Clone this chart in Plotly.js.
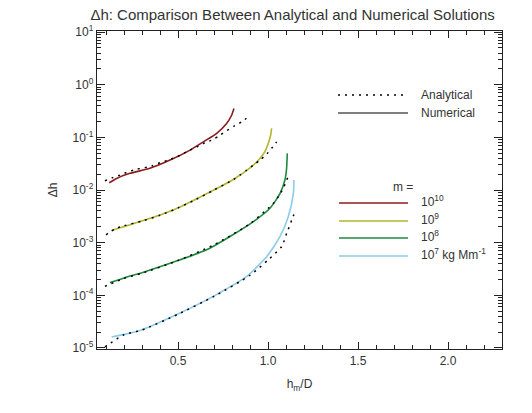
<!DOCTYPE html>
<html><head><meta charset="utf-8">
<script src="https://cdn.plot.ly/plotly-3.0.1.min.js"></script>
<style>html,body{margin:0;padding:0;background:#fff}#plot{width:532px;height:413px}</style>
</head><body><div id="plot"></div>
<script>
// ---- data (x = h_m/D, y = Δh) ----
const redNumX = [0.118,0.159,0.233,0.344,0.456,0.567,0.641,0.715,0.77,0.798,0.811];
const redNumY = [0.0137,0.0166,0.0207,0.0258,0.037,0.0573,0.0822,0.119,0.183,0.263,0.352];
const redAnaX = [0.094,0.141,0.178,0.224,0.27,0.354,0.4,0.446,0.5,0.55,0.613,0.65,0.696,0.733,0.77,0.811,0.854,0.89];
const redAnaY = [0.015,0.0174,0.0192,0.0222,0.0247,0.0285,0.0329,0.037,0.0437,0.0537,0.068,0.0787,0.0912,0.110,0.133,0.163,0.197,0.245];

const yelNumX = [0.131,0.289,0.474,0.659,0.807,0.9,0.95,0.983,1.005,1.015,1.02];
const yelNumY = [0.0017,0.00251,0.00418,0.00851,0.0158,0.0263,0.038,0.0537,0.0832,0.112,0.148];
const yelAnaX = [0.1,0.15,0.2,0.3,0.4,0.5,0.6,0.7,0.811,0.844,0.882,0.919,0.956,0.993,1.02,1.048];
const yelAnaY = [0.00141,0.00182,0.00209,0.00257,0.00331,0.00457,0.00661,0.01,0.016,0.0192,0.0239,0.0297,0.037,0.0481,0.0617,0.0822];

const grnNumX = [0.122,0.2,0.3,0.511,0.659,0.789,0.919,1.011,1.067,1.094,1.103,1.107];
const grnNumY = [0.000174,0.000214,0.000269,0.000472,0.000731,0.00131,0.00251,0.0045,0.00865,0.0155,0.0251,0.0496];
const grnAnaX = [0.094,0.2,0.3,0.5,0.7,0.9,1.03,1.057,1.085,1.104,1.122];
const grnAnaY = [0.000148,0.000209,0.000263,0.000457,0.000912,0.00229,0.00558,0.00748,0.0108,0.0155,0.0207];

const bluNumX = [0.131,0.289,0.511,0.696,0.882,0.993,1.067,1.113,1.141,1.144];
const bluNumY = [0.0000162,0.0000215,0.0000462,0.0000955,0.000228,0.000546,0.00131,0.00313,0.00865,0.0155];
const bluAnaX = [0.094,0.2,0.3,0.5,0.7,0.9,1.0,1.076,1.104,1.132,1.15];
const bluAnaY = [0.0000105,0.0000178,0.0000219,0.0000437,0.0000955,0.00024,0.000468,0.000843,0.00151,0.0027,0.00389];

const yTickVals = [1e-5,1e-4,1e-3,1e-2,1e-1,1,10];
const yTickText = ['10<sup>-5</sup>','10<sup>-4</sup>','10<sup>-3</sup>','10<sup>-2</sup>','10<sup>-1</sup>','10<sup>0</sup>','10<sup>1</sup>'];
const xTickVals = [0.5,1.0,1.5,2.0];
const xTickText = ['0.5','1.0','1.5','2.0'];

const colors = {red:'#8c1c1c', yel:'#b4b42e', grn:'#1e8a3e', blu:'#8ccbea'};
const legendLabels = ['10<sup>10</sup>','10<sup>9</sup>','10<sup>8</sup>','10<sup>7</sup> kg Mm<sup>-1</sup>'];

// ---- layout helpers ----
const W=532,H=413,L=97,R=30,T=31,B=64;
const pw=W-L-R, ph=H-T-B;
const px=x=>(x-L)/pw, py=y=>(H-B-y)/ph;

const yMinor=[];
for(let e=-5;e<=1;e++){for(let d=2;d<=9;d++){const v=d*Math.pow(10,e); if(v<10.5) yMinor.push(v);}}
const xMinor=[];
for(let i=1;i<=23;i++){xMinor.push(+(i*0.1).toFixed(1));}

function num(x,y,c){return {x:x,y:y,type:'scatter',mode:'lines',line:{color:c,width:1.6,shape:'spline',smoothing:0.6},showlegend:false,hoverinfo:'skip'};}
function ana(x,y){return {x:x,y:y,type:'scatter',mode:'lines',line:{color:'#000',width:1.5,dash:'2px,5px',shape:'spline',smoothing:0.6},showlegend:false,hoverinfo:'skip'};}

const data=[
  num(redNumX,redNumY,colors.red), num(yelNumX,yelNumY,colors.yel),
  num(grnNumX,grnNumY,colors.grn), num(bluNumX,bluNumY,colors.blu),
  ana(redAnaX,redAnaY), ana(yelAnaX,yelAnaY), ana(grnAnaX,grnAnaY), ana(bluAnaX,bluAnaY)
];

const txtFont={family:'Liberation Sans, Arial, sans-serif',size:12,color:'#333'};
const shapes=[
  {type:'line',xref:'paper',yref:'paper',x0:px(338),x1:px(408),y0:py(95),y1:py(95),line:{color:'#000',width:1.5,dash:'2px,5px'}},
  {type:'line',xref:'paper',yref:'paper',x0:px(338),x1:px(408),y0:py(113),y1:py(113),line:{color:'#000',width:1.2}}
];
const legY=[203,221,238,256];
const legC=[colors.red,colors.yel,colors.grn,colors.blu];
legY.forEach((y,i)=>shapes.push({type:'line',xref:'paper',yref:'paper',x0:px(339),x1:px(408),y0:py(y),y1:py(y),line:{color:legC[i],width:1.6}}));

const annotations=[
  {xref:'paper',yref:'paper',x:px(419),y:py(95),text:'Analytical',showarrow:false,xanchor:'left',yanchor:'middle',font:txtFont},
  {xref:'paper',yref:'paper',x:px(419),y:py(113),text:'Numerical',showarrow:false,xanchor:'left',yanchor:'middle',font:txtFont},
  {xref:'paper',yref:'paper',x:px(403),y:py(187),text:'m =',showarrow:false,xanchor:'center',yanchor:'middle',font:txtFont}
];
legY.forEach((y,i)=>annotations.push({xref:'paper',yref:'paper',x:px(419),y:py(y-2),text:legendLabels[i],showarrow:false,xanchor:'left',yanchor:'middle',font:txtFont}));

const axisCommon={showline:true,linecolor:'#222',linewidth:1.3,mirror:'ticks',ticks:'inside',tickcolor:'#222',showgrid:false,zeroline:false,tickfont:txtFont};

const layout={
  width:W,height:H,margin:{l:L,r:R,t:T,b:B},
  paper_bgcolor:'#fff',plot_bgcolor:'#fff',showlegend:false,
  font:txtFont,
  title:{text:'Δh: Comparison Between Analytical and Numerical Solutions',x:0.55,xanchor:'center',y:0.965,yanchor:'middle',font:{family:'Liberation Sans, Arial, sans-serif',size:15,color:'#333'}},
  xaxis:Object.assign({},axisCommon,{range:[0.05,2.3],tickmode:'array',tickvals:xTickVals,ticktext:xTickText,ticklen:7,
    minor:{tickmode:'array',tickvals:xMinor,ticks:'inside',ticklen:4,tickcolor:'#222',showgrid:false},
    title:{text:'h<sub>m</sub>/D',font:txtFont,standoff:13}}),
  yaxis:Object.assign({},axisCommon,{type:'log',range:[-5.02,1.02],tickmode:'array',tickvals:yTickVals,ticktext:yTickText,ticklen:8,
    minor:{tickmode:'array',tickvals:yMinor,ticks:'inside',ticklen:4,tickcolor:'#222',showgrid:false},
    title:{text:'Δh',font:txtFont,standoff:12}}),
  shapes:shapes,annotations:annotations
};
Plotly.newPlot('plot',data,layout,{displayModeBar:false,staticPlot:true});
</script></body></html>
